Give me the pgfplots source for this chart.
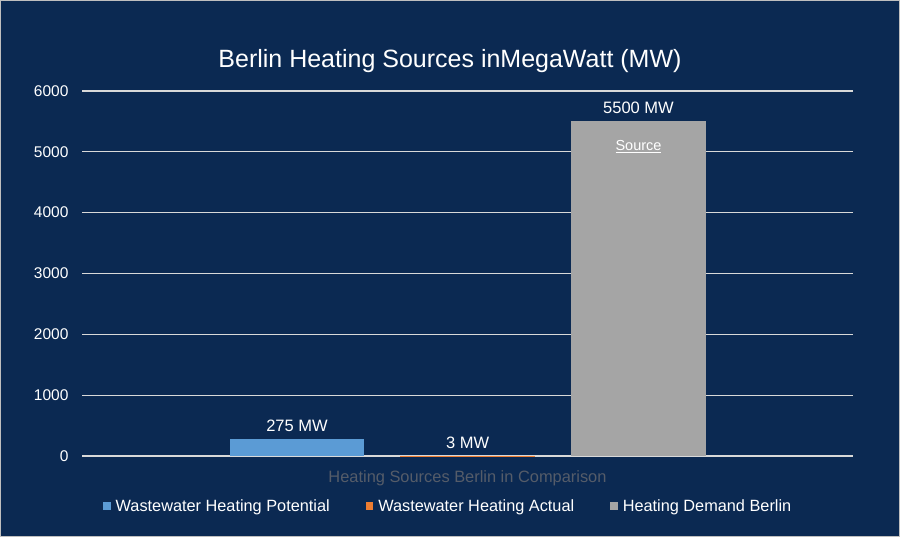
\documentclass[border=0pt]{standalone}
\usepackage{pgfplots}
\pgfplotsset{compat=1.18}
\usepackage{fontspec}
\setmainfont{Liberation Sans}
\definecolor{bg}{RGB}{11,41,82}
\definecolor{gridc}{RGB}{217,217,217}
\definecolor{cblue}{RGB}{91,155,213}
\definecolor{corange}{RGB}{237,125,49}
\definecolor{cgray}{RGB}{165,165,165}
\definecolor{dimtxt}{RGB}{85,92,105}
\begin{document}
\begin{tikzpicture}[x=1pt,y=1pt]
\fill[bg] (0,0) rectangle (900,537);
\draw[gray!50, line width=1pt] (0.5,0.5) rectangle (899.5,536.5);
\node[white, font=\fontsize{25}{29}\selectfont] at (450,476) {Berlin Heating Sources inMegaWatt (MW)};
\begin{axis}[
  at={(82pt,81pt)}, anchor=south west,
  scale only axis, width=771pt, height=365pt,
  xmin=-1.259, xmax=3.256, ymin=0, ymax=6000,
  ytick={0,1000,2000,3000,4000,5000,6000},
  xtick=\empty,
  axis line style={draw=none},
  ymajorgrids, grid style={color=gridc, line width=1.2pt},
  major tick length=0pt,
  /pgf/number format/assume math mode=true,
  /pgf/number format/1000 sep={},
  yticklabel style={white, font=\fontsize{15.5}{18}\selectfont, xshift=-10pt},
  ybar, bar width=0.79, bar shift=0pt,
  clip=false,
  legend columns=3,
  legend style={at={(0.475,-0.137)}, anchor=center, draw=none, fill=none,
    text=white, font=\fontsize{16.3}{19}\selectfont,
    /tikz/every odd column/.append style={column sep=3pt},
    /tikz/every even column/.append style={column sep=34pt}},
  legend image code/.code={\fill[#1] (0pt,-3.8pt) rectangle (7.5pt,3.8pt);},
  nodes near coords style={white, font=\fontsize{16.5}{19}\selectfont, yshift=4pt},
]
\addplot[fill=cblue, draw=none, nodes near coords={275 MW}] coordinates {(0,275)};
\addlegendentry{Wastewater Heating Potential}
\addplot[fill=corange, draw=none, nodes near coords={3 MW}] coordinates {(1,3)};
\addlegendentry{Wastewater Heating Actual}
\addplot[fill=cgray, draw=none, nodes near coords={5500 MW}] coordinates {(2,5500)};
\addlegendentry{Heating Demand Berlin}
\node[white, font=\fontsize{14.5}{17}\selectfont] at (axis cs:2,5085) {\underline{Source}};
\node[dimtxt, font=\fontsize{16.4}{19}\selectfont] at (axis description cs:0.5,-0.06) {Heating Sources Berlin in Comparison};
\end{axis}
\end{tikzpicture}
\end{document}
